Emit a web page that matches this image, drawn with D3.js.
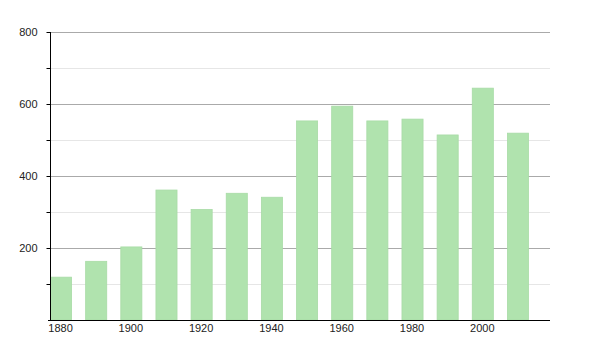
<!DOCTYPE html>
<html>
<head>
<meta charset="utf-8">
<script src="https://cdn.jsdelivr.net/npm/d3@7"></script>
<style>
  body { margin: 0; background: #fff; }
  text { font-family: "Liberation Sans", Arial, sans-serif; font-size: 11px; fill: #222; }
</style>
</head>
<body>
<div id="chart"></div>
<script>
var years = [1880, 1890, 1900, 1910, 1920, 1930, 1940, 1950, 1960, 1970, 1980, 1990, 2000, 2010]
var values = [119, 163, 203, 361, 307, 352, 341, 553, 594, 553, 558, 514, 644, 519]
var majorTicks = [200, 400, 600, 800]
var minorTicks = [100, 300, 500, 700]
var xLabels = [1880, 1900, 1920, 1940, 1960, 1980, 2000]

var svg = d3.select("#chart").append("svg").attr("width", 600).attr("height", 350)

var x = d3.scaleBand().domain(years).range([50.5, 528.5]).paddingInner(0.4).paddingOuter(0)
var y = d3.scaleLinear().domain([0, 800]).range([320, 32])

// grid
svg.selectAll(".minor").data(minorTicks).enter().append("line")
    .attr("x1", 50).attr("x2", 550)
    .attr("y1", function (d) { return Math.round(y(d)) + 0.5 })
    .attr("y2", function (d) { return Math.round(y(d)) + 0.5 })
    .attr("stroke", "#e6e6e6")
svg.selectAll(".major").data(majorTicks).enter().append("line")
    .attr("x1", 50).attr("x2", 550)
    .attr("y1", function (d) { return Math.round(y(d)) + 0.5 })
    .attr("y2", function (d) { return Math.round(y(d)) + 0.5 })
    .attr("stroke", "#aaaaaa")

// bars
svg.selectAll(".bar").data(years).enter().append("rect")
    .attr("x", function (d) { return x(d) })
    .attr("width", x.bandwidth())
    .attr("y", function (d, i) { return y(values[i]) })
    .attr("height", function (d, i) { return y(0) - y(values[i]) })
    .attr("fill", "#b0e3ae")
    .attr("stroke", "#a8dba6")
    .attr("stroke-width", 0.8)

// y axis
var yAxis = d3.axisLeft(y).tickValues(majorTicks).tickSize(4).tickFormat(d3.format("d"))
var ya = svg.append("g").attr("transform", "translate(50.5,0)").call(yAxis)
ya.select(".domain").attr("d", "M0," + y(800) + "V" + y(0)).attr("stroke", "#000")
ya.selectAll(".tick line").attr("stroke", "#000")
ya.selectAll(".tick text").attr("x", -13).style("fill", "#222")
var yMinor = svg.append("g").attr("transform", "translate(50.5,0)")
    .call(d3.axisLeft(y).tickValues(minorTicks).tickSize(4).tickFormat(""))
yMinor.select(".domain").remove()
yMinor.selectAll(".tick line").attr("stroke", "#000")

// x axis
svg.append("line").attr("x1", 48).attr("x2", 550).attr("y1", 320.5).attr("y2", 320.5)
    .attr("stroke", "#000").attr("stroke-width", 1.2)
svg.selectAll(".xlab").data(xLabels).enter().append("text")
    .attr("x", function (d) { return x(d) + x.bandwidth() / 2 - 0.5 })
    .attr("y", 332)
    .attr("text-anchor", "middle")
    .text(function (d) { return d })
</script>
</body>
</html>
